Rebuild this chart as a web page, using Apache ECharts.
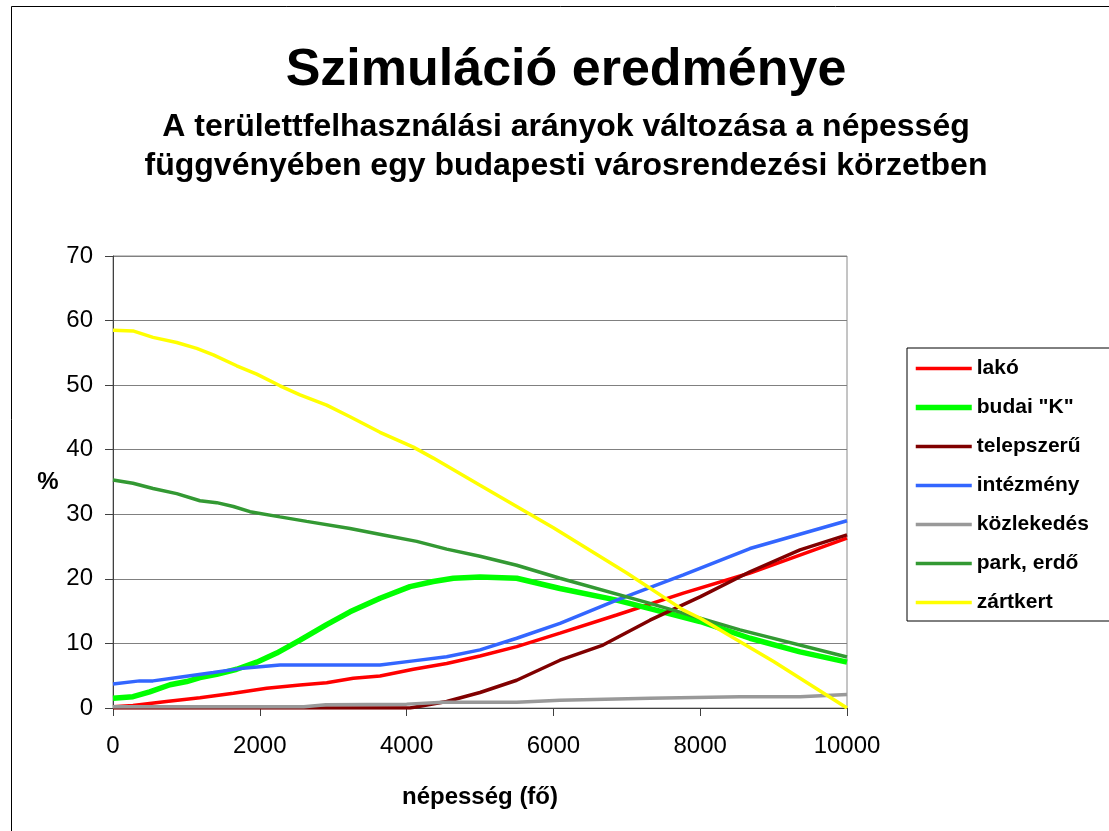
<!DOCTYPE html>
<html>
<head>
<meta charset="utf-8">
<script src="https://cdn.jsdelivr.net/npm/echarts@6/dist/echarts.min.js"></script>
<style>
html,body{margin:0;padding:0;background:#fff;}
#chart{width:1109px;height:831px;}
</style>
</head>
<body>
<div id="chart"></div>
<script>
// ---- data ----
const seriesNames = ['lakó', 'budai "K"', 'telepszerű', 'intézmény', 'közlekedés', 'park, erdő', 'zártkert'];

const lakoX = [0, 272, 727, 1185, 1640, 2094, 2548, 2911, 3274, 3638, 4092, 4546, 5000, 5500, 6090, 6862, 7771, 8678, 10000];
const lakoY = [0.2, 0.4, 1.0, 1.6, 2.3, 3.05, 3.55, 3.9, 4.6, 4.95, 6.0, 6.9, 8.05, 9.5, 11.6, 14.4, 17.8, 20.9, 26.3];

const budaiX = [0, 272, 500, 777, 1004, 1185, 1413, 1685, 1958, 2230, 2548, 2911, 3229, 3638, 4046, 4364, 4637, 5000, 5500, 6090, 6862, 7316, 7997, 8678, 9360, 10000];
const budaiY = [1.5, 1.75, 2.5, 3.6, 4.1, 4.7, 5.2, 6.0, 7.1, 8.5, 10.5, 12.9, 14.9, 17.0, 18.8, 19.6, 20.1, 20.3, 20.1, 18.5, 16.7, 15.4, 13.4, 10.8, 8.7, 7.1];

const telepX = [0, 4046, 4546, 5000, 5500, 6090, 6676, 7316, 7997, 8678, 9360, 10000];
const telepY = [0, 0, 1.0, 2.4, 4.3, 7.4, 9.75, 13.6, 17.2, 21.1, 24.5, 26.8];

const intezX = [0, 363, 545, 954, 1367, 1730, 2275, 3638, 4092, 4546, 5000, 5500, 6090, 6862, 7771, 8678, 10000];
const intezY = [3.7, 4.2, 4.2, 4.85, 5.5, 6.1, 6.65, 6.65, 7.3, 7.95, 9.0, 10.8, 13.1, 16.7, 20.6, 24.7, 29.0];

const kozlX = [0, 2600, 2900, 4000, 4500, 5500, 6090, 7316, 8542, 9360, 10000];
const kozlY = [0.2, 0.2, 0.5, 0.6, 0.9, 0.9, 1.2, 1.5, 1.75, 1.75, 2.1];

const parkX = [0, 272, 545, 868, 1185, 1413, 1640, 1866, 2275, 2638, 3229, 3683, 4138, 4546, 5000, 5500, 6090, 7316, 8542, 10000];
const parkY = [35.3, 34.8, 34.0, 33.2, 32.1, 31.8, 31.2, 30.4, 29.6, 28.9, 27.8, 26.8, 25.8, 24.6, 23.5, 22.1, 20.1, 16.2, 12.1, 7.9];

const zartX = [0, 272, 545, 868, 1140, 1367, 1685, 1958, 2275, 2548, 2911, 3229, 3638, 4092, 4364, 5000, 6000, 7000, 7766, 8000, 9000, 10000];
const zartY = [58.5, 58.4, 57.4, 56.6, 55.7, 54.7, 53.0, 51.7, 49.9, 48.5, 46.9, 45.1, 42.7, 40.4, 38.7, 34.5, 27.9, 20.9, 15.2, 13.9, 7.2, 0];

const titleText = 'Szimuláció eredménye';
const subtitleLines = ['A területtfelhasználási arányok változása a népesség', 'függvényében egy budapesti városrendezési körzetben'];
const xAxisTitle = 'népesség (fő)';
const yAxisTitle = '%';

// ---- build ----
const FONT = '"Liberation Sans", Arial, sans-serif';
function zip(xs, ys) { return xs.map((x, i) => [x, ys[i]]); }
const allData = [zip(lakoX, lakoY), zip(budaiX, budaiY), zip(telepX, telepY), zip(intezX, intezY), zip(kozlX, kozlY), zip(parkX, parkY), zip(zartX, zartY)];
const colors = ['#FF0000', '#00FF00', '#800000', '#3366FF', '#999999', '#339933', '#FFFF00'];
const widths = [3.5, 5.5, 3.5, 3.5, 3.5, 3.5, 3.5];

const chart = echarts.init(document.getElementById('chart'), null, {renderer: 'canvas'});
chart.setOption({
  backgroundColor: '#ffffff',
  animation: false,
  textStyle: {fontFamily: FONT},
  grid: {left: 113, top: 256, right: 262, bottom: 123, show: true, borderColor: '#8a8a8a', borderWidth: 1, backgroundColor: 'transparent'},
  xAxis: {
    type: 'value', min: 0, max: 10000, interval: 2000,
    axisLine: {show: true, onZero: false, lineStyle: {color: '#404040', width: 1}},
    axisTick: {show: true, inside: false, length: 8, lineStyle: {color: '#404040'}},
    splitLine: {show: false},
    axisLabel: {color: '#000', fontSize: 24, margin: 26, fontFamily: FONT, formatter: v => String(v)},
    name: xAxisTitle, nameLocation: 'middle', nameGap: 77,
    nameTextStyle: {color: '#000', fontSize: 24, fontWeight: 'bold', fontFamily: FONT}
  },
  yAxis: {
    type: 'value', min: 0, max: 70, interval: 10,
    axisLine: {show: true, lineStyle: {color: '#404040', width: 1}},
    axisTick: {show: true, inside: false, length: 8, lineStyle: {color: '#404040'}},
    splitLine: {show: true, lineStyle: {color: '#808080', width: 1}},
    axisLabel: {color: '#000', fontSize: 24, margin: 20, fontFamily: FONT}
  },
  legend: {
    orient: 'vertical', left: 907, top: 348,
    padding: [10, 60, 8, 6],
    itemWidth: 56, itemHeight: 14, itemGap: 18,
    borderColor: '#000', borderWidth: 1, borderRadius: 0,
    backgroundColor: '#fff',
    itemStyle: {color: 'rgba(0,0,0,0)', borderWidth: 0, opacity: 0},
    textStyle: {color: '#000', fontSize: 21, fontWeight: 'bold', fontFamily: FONT, lineHeight: 20},
    data: seriesNames.map((n, i) => ({name: n, lineStyle: {color: colors[i], width: widths[i]}}))
  },
  graphic: [
    {type: 'rect', left: 9, top: 4, shape: {width: 1200, height: 900}, style: {fill: 'none', stroke: '#000', lineWidth: 1}, silent: true, z: -10},
    {type: 'text', x: 566, y: 71, style: {text: titleText, font: 'bold 52px ' + FONT, fill: '#000', align: 'center', verticalAlign: 'middle'}},
    {type: 'text', x: 566, y: 127, style: {text: subtitleLines[0], font: 'bold 32px ' + FONT, fill: '#000', align: 'center', verticalAlign: 'middle'}},
    {type: 'text', x: 566, y: 166, style: {text: subtitleLines[1], font: 'bold 32px ' + FONT, fill: '#000', align: 'center', verticalAlign: 'middle'}},
    {type: 'text', x: 48, y: 482, style: {text: yAxisTitle, font: 'bold 24px ' + FONT, fill: '#000', align: 'center', verticalAlign: 'middle'}}
  ],
  series: seriesNames.map((n, i) => ({
    name: n, type: 'line', data: allData[i],
    showSymbol: false, symbol: 'none', smooth: false,
    lineStyle: {color: colors[i], width: widths[i]},
    itemStyle: {color: colors[i]},
    emphasis: {disabled: true}
  }))
});
</script>
</body>
</html>
